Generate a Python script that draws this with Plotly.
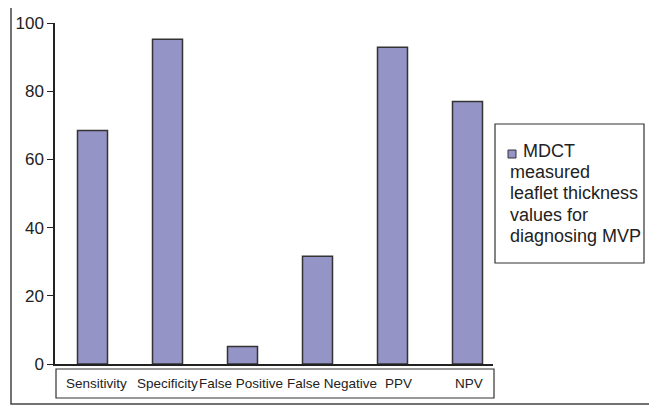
import plotly.graph_objects as go

categories = ["Sensitivity", "Specificity", "False Positive", "False Negative", "PPV", "NPV"]
values = [68.5, 95.2, 5.1, 31.6, 92.9, 77.0]
y_ticks = [0, 20, 40, 60, 80, 100]
legend_lines = ["MDCT", "measured", "leaflet thickness", "values for", "diagnosing MVP"]

# label nudges (px) so the long category labels do not collide
label_shift = [4, 0, -2, 14, 6, 1]

OFF = 8  # page body margin
WIN_W, WIN_H = 657, 407
W, H = WIN_W - OFF, WIN_H - OFF
L, R, T, B = 55, 493, 23, 364  # plot area in window px


def px(x):
    return (x - L) / (R - L)


def py(y):
    return (B - y) / (B - T)


BAR = "#9494C6"
EDGE = "#333333"
FONT = "Arial, Liberation Sans, sans-serif"

fig = go.Figure(go.Bar(
    x=categories, y=values, width=0.4,
    marker=dict(color=BAR, line=dict(color=EDGE, width=1.5)),
    showlegend=False,
))

shapes = [
    # outer frame
    dict(type="rect", xref="paper", yref="paper", x0=px(11), x1=px(655), y0=py(404), y1=py(6),
         line=dict(color="#444444", width=1.5), layer="below"),
    # category box
    dict(type="rect", xref="paper", yref="paper", x0=px(56), x1=px(494), y0=py(398), y1=py(369),
         line=dict(color="#333333", width=1.2)),
    # legend box
    dict(type="rect", xref="paper", yref="paper", x0=px(495), x1=px(644), y0=py(263), y1=py(124),
         line=dict(color="#333333", width=1.2)),
    # legend swatch
    dict(type="rect", xref="paper", yref="paper", x0=px(508), x1=px(516), y0=py(158), y1=py(150),
         fillcolor=BAR, line=dict(color=EDGE, width=1)),
]

annotations = []
for cat, dx in zip(categories, label_shift):
    annotations.append(dict(
        xref="x", yref="paper", x=cat, y=py(383.5), xshift=dx,
        xanchor="center", yanchor="middle", text=cat, showarrow=False,
        font=dict(family=FONT, size=13.5, color="#222222"),
    ))

line_y = [151, 172, 193, 215, 236]
for i, (txt, yy) in enumerate(zip(legend_lines, line_y)):
    annotations.append(dict(
        xref="paper", yref="paper", x=px(521 if i == 0 else 508), y=py(yy),
        xanchor="left", yanchor="middle", text=txt, showarrow=False,
        font=dict(family=FONT, size=18, color="#222222"),
    ))

fig.update_layout(
    width=W, height=H,
    margin=dict(l=L - OFF, r=W - (R - OFF), t=T - OFF, b=H - (B - OFF), pad=0, autoexpand=False),
    paper_bgcolor="white", plot_bgcolor="white",
    font=dict(family=FONT, color="#222222"),
    shapes=shapes,
    annotations=annotations,
    xaxis=dict(
        type="category", range=[-0.5, 5.34], showgrid=False, zeroline=False,
        showline=True, linecolor="#222222", linewidth=1.5, automargin=False,
        ticks="", showticklabels=False,
    ),
    yaxis=dict(
        range=[0, 100], tickvals=y_ticks, showgrid=False, zeroline=False,
        showline=True, linecolor="#222222", linewidth=1.5, automargin=False,
        ticks="outside", ticklen=6, tickcolor="#222222", tickwidth=1.2,
        tickfont=dict(size=17, family=FONT, color="#222222"),
    ),
)

fig.write_html("out.html")
